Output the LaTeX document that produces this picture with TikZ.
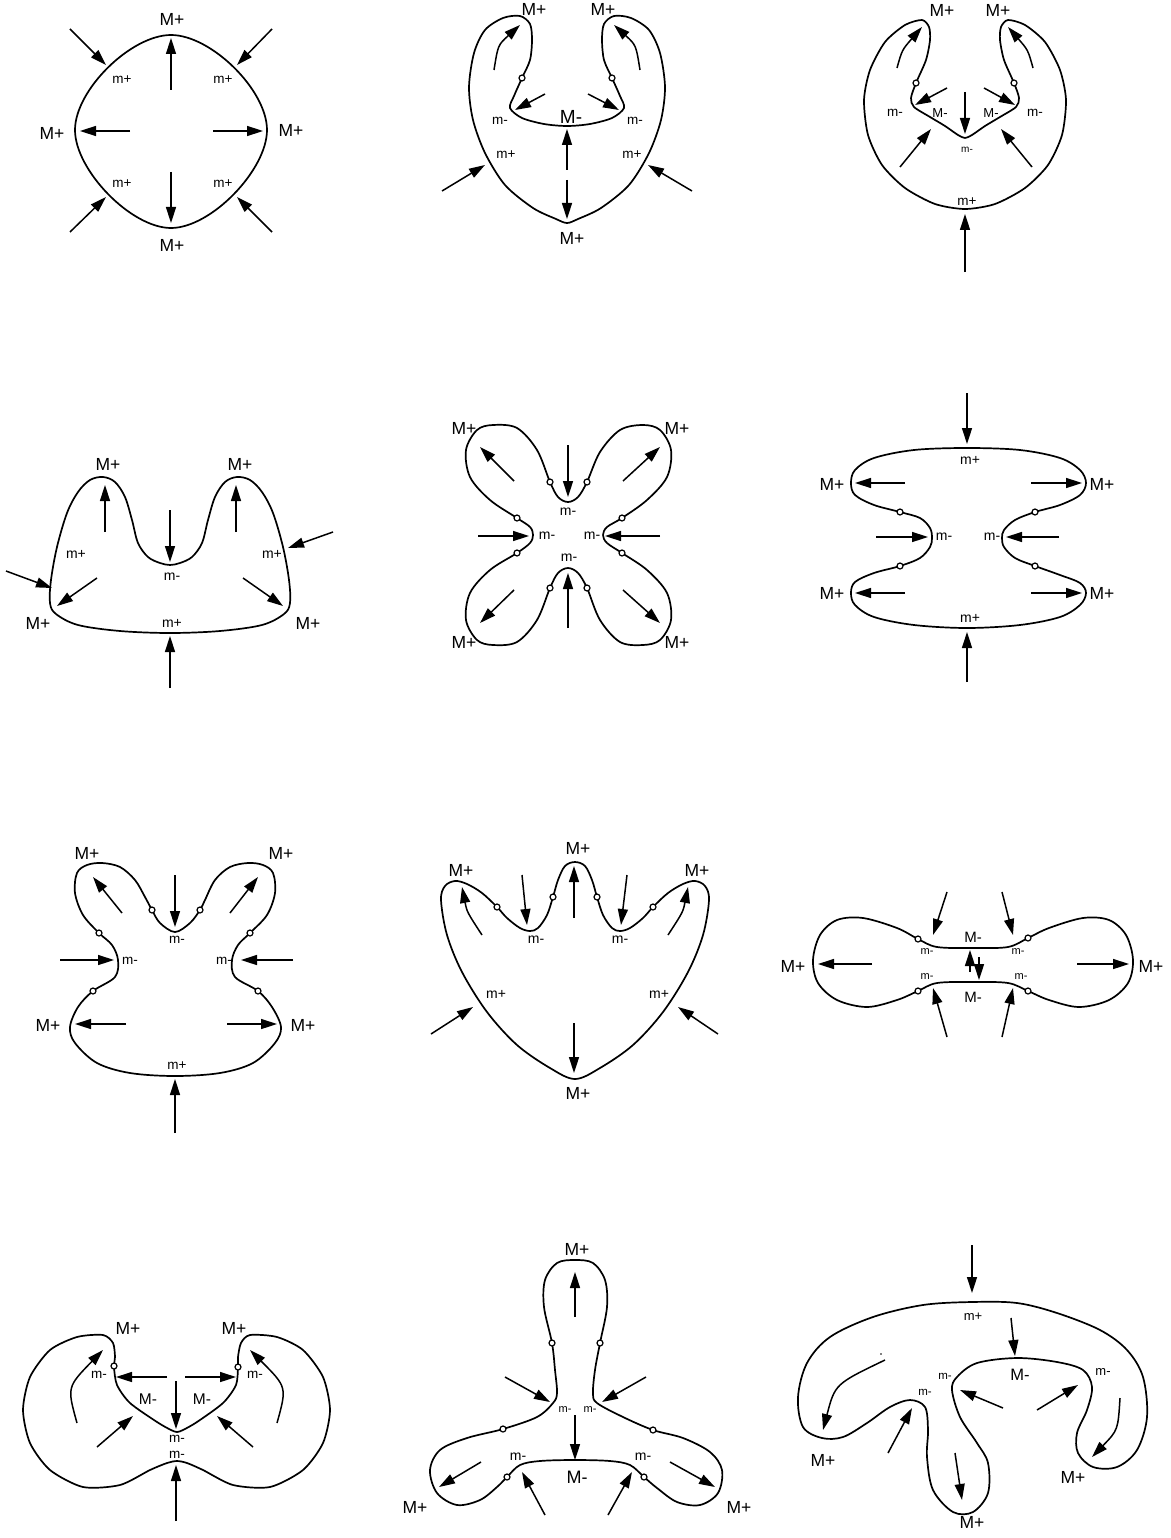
\documentclass[tikz,border=0pt]{standalone}
\usepackage{fontspec}
\setmainfont{Liberation Sans}
\usetikzlibrary{arrows.meta}
\tikzset{
 outline/.style={line width=1.7pt, line join=round},
 arr/.style={line width=1.5pt, -{Triangle[length=16pt,width=10pt]}},
 ring/.style={line width=1.2pt, fill=white},
 lbl/.style={font=\fontsize{#1}{#1}\selectfont, inner sep=0pt},
 dotmark/.style={fill=black}
}
\begin{document}
\begin{tikzpicture}[x=1pt,y=-1pt]
\useasboundingbox (0,0) rectangle (1170,1538);

% ===== Panel 1 =====
\draw[outline] (171,35) .. controls (211,35) and (267,90) .. (267,130) .. controls (267,170) and (211,228) .. (171,228) .. controls (131,228) and (75,170) .. (75,130) .. controls (75,90) and (131,35) .. (171,35) -- cycle;
\draw[arr] (171,90) -- (171,38);
\draw[arr] (130,131) -- (80,131);
\draw[arr] (213,131) -- (263,131);
\draw[arr] (171,172) -- (171,223);
\draw[arr] (70,29) -- (106,65);
\draw[arr] (272,29) -- (237,65);
\draw[arr] (70,232) -- (106,197);
\draw[arr] (272,232) -- (237,197);
\node[lbl=17.5] (a1) at (172,19) {M+};
\node[lbl=17.5] (a2) at (52,133) {M+};
\node[lbl=17.5] (a3) at (291,130) {M+};
\node[lbl=17.5] (a4) at (172,245) {M+};
\node[lbl=13.5] (a5) at (122,80) {m+};
\node[lbl=13.5] (a6) at (223,80) {m+};
\node[lbl=13.5] (a7) at (122,184) {m+};
\node[lbl=13.5] (a8) at (223,184) {m+};

% ===== Panel 2 =====
\draw[outline] plot[smooth cycle, tension=0.5] coordinates {(520,16) (503,18) (485,30) (474,53) (469,87) (473,120) (485,153) (505,185) (533,208) (556,219) (567,223) (578,219) (601,208) (629,185) (649,153) (661,120) (665,87) (660,53) (649,30) (631,18) (614,16) (604,24) (602,40) (604,60) (612,78) (620,96) (624,108) (612,118) (590,124) (567,126) (544,124) (522,118) (510,108) (514,96) (522,78) (530,60) (532,40) (530,24)};
\draw[ring] (522,78) circle (3pt);
\draw[ring] (612,78) circle (3pt);
\draw[arr] (494,70) .. controls (498,45) .. (520,25);
\draw[arr] (640,70) .. controls (636,45) .. (614,25);
\draw[arr] (545,94) -- (515,110);
\draw[arr] (588,94) -- (619,110);
\draw[arr] (567,170) -- (567,129);
\draw[arr] (567,180) -- (567,219);
\draw[arr] (442,191) -- (485,165);
\draw[arr] (692,191) -- (648,165);
\node[lbl=17.5] (b1) at (534,9) {M+};
\node[lbl=17.5] (b2) at (603,9) {M+};
\node[lbl=19] (b3) at (571,117) {M-};
\node[lbl=13.5] (b4) at (500,121) {m-};
\node[lbl=13.5] (b5) at (635,121) {m-};
\node[lbl=13.5] (b6) at (506,155) {m+};
\node[lbl=13.5] (b7) at (632,155) {m+};
\node[lbl=17.5] (b8) at (572,238) {M+};

% ===== Panel 3 =====
\draw[outline] plot[smooth cycle, tension=0.45] coordinates {(922,20) (905,25) (885,42) (870,70) (864,100) (868,135) (882,165) (905,188) (935,204) (965,209) (995,204) (1025,188) (1048,165) (1062,135) (1066,100) (1060,70) (1045,42) (1025,25) (1008,20) (1001,27) (1000,40) (1004,60) (1014,83) (1019,98) (1016,107) (1000,117) (985,126) (972,135) (965,138) (958,135) (945,126) (930,117) (914,107) (911,98) (916,83) (926,60) (930,40) (929,27)};
\draw[ring] (916,83) circle (3pt);
\draw[ring] (1014,83) circle (3pt);
\draw[arr] (897,68) .. controls (902,50) .. (922,27);
\draw[arr] (1033,68) .. controls (1028,50) .. (1008,27);
\draw[arr] (947,88) -- (915,105);
\draw[arr] (984,88) -- (1015,105);
\draw[arr] (965,92) -- (965,134);
\draw[arr] (900,167) -- (931,129);
\draw[arr] (1032,167) -- (1001,129);
\draw[arr] (965,272) -- (965,214);
\node[lbl=17.5] (c1) at (942,10) {M+};
\node[lbl=17.5] (c2) at (998,10) {M+};
\node[lbl=13.5] (c3) at (895,113) {m-};
\node[lbl=13.5] (c4) at (1035,113) {m-};
\node[lbl=13] (c5) at (940,113) {M-};
\node[lbl=13] (c6) at (991,113) {M-};
\node[lbl=10] (c7) at (967,150) {m-};
\node[lbl=13.5] (c8) at (967,202) {m+};

% ===== Panel 4 =====
\draw[outline] plot[smooth cycle, tension=0.55] coordinates {(103,477) (115,482) (125,497) (132,520) (138,543) (148,557) (160,563) (170,565) (180,563) (192,557) (202,543) (208,520) (215,497) (225,482) (237,477) (250,480) (262,492) (273,513) (283,547) (289,580) (290,603) (284,614) (262,625) (220,631) (170,633) (120,631) (78,625) (56,614) (50,603) (51,580) (57,547) (67,513) (78,492) (90,480)};
\draw[arr] (105,532) -- (105,485);
\draw[arr] (236,532) -- (236,485);
\draw[arr] (170,510) -- (170,562);
\draw[arr] (6,571) -- (52,588);
\draw[arr] (333,532) -- (288,548);
\draw[arr] (97,578) -- (57,606);
\draw[arr] (243,578) -- (283,606);
\draw[arr] (170,688) -- (170,636);
\node[lbl=17.5] (d1) at (108,464) {M+};
\node[lbl=17.5] (d2) at (240,464) {M+};
\node[lbl=14] (d3) at (76,554) {m+};
\node[lbl=14] (d4) at (272,554) {m+};
\node[lbl=14] (d5) at (172,577) {m-};
\node[lbl=14] (d6) at (172,623) {m+};
\node[lbl=17.5] (d7) at (38,623) {M+};
\node[lbl=17.5] (d8) at (308,623) {M+};

% ===== Panel 5 =====
\draw[outline] plot[smooth cycle, tension=0.55] coordinates {(568,502) (578,497) (587,482) (600,452) (620,430) (643,425) (660,430) (671,450) (667,477) (647,500) (622,518) (607,527) (603,535) (607,543) (622,553) (647,570) (667,593) (671,620) (660,640) (643,645) (620,642) (600,620) (587,588) (578,573) (568,568) (558,573) (550,588) (537,620) (517,642) (493,645) (477,640) (466,620) (470,593) (490,570) (517,553) (530,543) (533,535) (530,527) (517,518) (490,500) (470,477) (466,450) (477,430) (493,425) (517,428) (537,450) (550,482) (558,497)};
\foreach \p in {(550,482),(587,482),(517,518),(622,518),(517,553),(622,553),(550,588),(587,588)} \draw[ring] \p circle (3pt);
\draw[arr] (568,445) -- (568,497);
\draw[arr] (568,628) -- (568,573);
\draw[arr] (478,536) -- (529,536);
\draw[arr] (660,536) -- (605,536);
\draw[arr] (514,481) -- (480,447);
\draw[arr] (623,481) -- (660,447);
\draw[arr] (514,590) -- (480,623);
\draw[arr] (623,590) -- (660,623);
\node[lbl=17.5] (e1) at (464,428) {M+};
\node[lbl=17.5] (e2) at (677,428) {M+};
\node[lbl=17.5] (e3) at (464,642) {M+};
\node[lbl=17.5] (e4) at (677,642) {M+};
\node[lbl=14] (e5) at (568,512) {m-};
\node[lbl=14] (e6) at (547,536) {m-};
\node[lbl=14] (e7) at (592,536) {m-};
\node[lbl=14] (e8) at (569,558) {m-};

% ===== Panel 6 =====
\draw[outline] plot[smooth cycle, tension=0.55] coordinates {(967,448) (1020,450) (1060,458) (1080,470) (1086,483) (1080,495) (1060,505) (1035,512) (1015,520) (1004,530) (1002,538) (1004,547) (1015,558) (1035,566) (1060,575) (1080,583) (1086,593) (1080,605) (1060,617) (1020,625) (967,628) (914,625) (874,617) (855,605) (851,593) (855,582) (874,573) (900,566) (920,558) (930,547) (932,538) (930,528) (920,518) (900,512) (874,505) (855,495) (851,483) (855,470) (874,458) (914,450)};
\foreach \p in {(900,512),(900,566),(1035,512),(1035,566)} \draw[ring] \p circle (3pt);
\draw[arr] (967,393) -- (967,444);
\draw[arr] (967,682) -- (967,632);
\draw[arr] (905,483) -- (855,483);
\draw[arr] (1031,483) -- (1082,483);
\draw[arr] (905,593) -- (855,593);
\draw[arr] (1031,593) -- (1082,593);
\draw[arr] (876,537) -- (928,537);
\draw[arr] (1059,537) -- (1006,537);
\node[lbl=14] (f1) at (970,460) {m+};
\node[lbl=14] (f2) at (970,618) {m+};
\node[lbl=17.5] (f3) at (832,484) {M+};
\node[lbl=17.5] (f4) at (1102,484) {M+};
\node[lbl=17.5] (f5) at (832,593) {M+};
\node[lbl=17.5] (f6) at (1102,593) {M+};
\node[lbl=14] (f7) at (944,537) {m-};
\node[lbl=14] (f8) at (992,537) {m-};

% ===== Panel 7 =====
\draw[outline] plot[smooth cycle, tension=0.55] coordinates {(175,932) (190,923) (200,910) (205,900) (215,880) (230,867) (248,863) (263,865) (273,873) (275,893) (267,915) (250,933) (238,945) (232,960) (235,977) (258,991) (272,1007) (281,1027) (275,1043) (253,1063) (220,1073) (175,1076) (130,1073) (97,1063) (75,1043) (70,1027) (78,1007) (93,991) (115,977) (118,960) (112,945) (99,933) (83,915) (75,893) (77,873) (87,865) (102,863) (120,867) (135,880) (145,897) (152,910) (160,923)};
\foreach \p in {(152,910),(200,910),(99,933),(250,933),(93,991),(258,991)} \draw[ring] \p circle (3pt);
\draw[arr] (175,875) -- (175,927);
\draw[arr] (122,913) -- (93,877);
\draw[arr] (230,913) -- (258,877);
\draw[arr] (60,960) -- (114,960);
\draw[arr] (293,960) -- (241,960);
\draw[arr] (126,1024) -- (75,1024);
\draw[arr] (227,1024) -- (277,1024);
\draw[arr] (175,1133) -- (175,1079);
\node[lbl=17.5] (g1) at (87,853) {M+};
\node[lbl=17.5] (g2) at (281,853) {M+};
\node[lbl=13.5] (g3) at (177,940) {m-};
\node[lbl=13.5] (g4) at (130,961) {m-};
\node[lbl=13.5] (g5) at (224,961) {m-};
\node[lbl=17.5] (g6) at (48,1025) {M+};
\node[lbl=17.5] (g7) at (303,1025) {M+};
\node[lbl=13.5] (g8) at (177,1066) {m+};

% ===== Panel 8 =====
\draw[outline] plot[smooth cycle, tension=0.55] coordinates {(575,862) (585,866) (592,880) (597,897) (603,915) (612,928) (620,931) (630,928) (643,918) (653,907) (668,893) (683,884) (695,881) (705,886) (709,900) (703,935) (688,972) (663,1012) (633,1045) (600,1068) (575,1079) (550,1068) (517,1045) (487,1012) (462,972) (447,935) (441,900) (445,886) (455,881) (467,884) (482,893) (497,907) (507,918) (520,928) (530,931) (538,928) (547,915) (553,897) (558,880) (565,866)};
\foreach \p in {(497,907),(553,897),(597,897),(653,907)} \draw[ring] \p circle (3pt);
\draw[arr] (574,918) -- (574,866);
\draw[arr] (522,875) -- (527,925);
\draw[arr] (627,875) -- (621,925);
\draw[arr] (482,935) .. controls (467,912) .. (462,887);
\draw[arr] (668,935) .. controls (683,912) .. (688,887);
\draw[arr] (574,1023) -- (574,1073);
\draw[arr] (431,1034) -- (473,1007);
\draw[arr] (718,1034) -- (678,1007);
\node[lbl=17.5] (h1) at (578,848) {M+};
\node[lbl=17.5] (h2) at (461,870) {M+};
\node[lbl=17.5] (h3) at (697,870) {M+};
\node[lbl=17.5] (h4) at (578,1093) {M+};
\node[lbl=14] (h5) at (536,940) {m-};
\node[lbl=14] (h6) at (620,940) {m-};
\node[lbl=14] (h7) at (496,994) {m+};
\node[lbl=14] (h8) at (659,994) {m+};

% ===== Panel 9 =====
\draw[outline] plot[smooth cycle, tension=0.55] coordinates {(918,939) (937,947) (973,948) (1008,947) (1028,938) (1049,928) (1083,918) (1109,920) (1126,935) (1133,960) (1128,983) (1109,1000) (1079,1007) (1049,1000) (1028,991) (1008,983) (973,982) (937,983) (918,991) (897,1000) (867,1007) (837,1000) (818,983) (813,960) (820,935) (837,920) (863,918) (897,928)};
\foreach \p in {(918,939),(1028,938),(918,991),(1028,991)} \draw[ring] \p circle (3pt);
\draw[arr] (947,892) -- (933,935);
\draw[arr] (1002,892) -- (1013,935);
\draw[arr] (947,1037) -- (933,988);
\draw[arr] (1002,1037) -- (1013,988);
\draw[arr] (970,972) -- (970,950);
\draw[arr] (979,957) -- (979,980);
\draw[arr] (872,964) -- (818,964);
\draw[arr] (1077,964) -- (1129,964);
\node[lbl=15] (i1) at (973,937) {M-};
\node[lbl=15] (i2) at (973,997) {M-};
\node[lbl=11] (i3) at (927,952) {m-};
\node[lbl=11] (i4) at (1018,952) {m-};
\node[lbl=11] (i5) at (927,977) {m-};
\node[lbl=11] (i6) at (1021,977) {m-};
\node[lbl=17.5] (i7) at (793,966) {M+};
\node[lbl=17.5] (i8) at (1151,966) {M+};

% ===== Panel 10 =====
\draw[outline] plot[smooth cycle, tension=0.45] coordinates {(103,1335) (77,1337) (50,1350) (30,1377) (23,1410) (30,1443) (50,1470) (83,1487) (120,1485) (150,1470) (167,1463) (177,1461) (187,1463) (203,1470) (233,1485) (270,1487) (303,1470) (323,1443) (330,1410) (323,1377) (303,1350) (277,1337) (250,1335) (241,1343) (238,1357) (238,1367) (236,1385) (223,1403) (197,1422) (183,1430) (177,1432) (171,1430) (157,1422) (130,1403) (117,1385) (114,1367) (115,1357) (113,1343)};
\draw[ring] (114,1366) circle (3pt);
\draw[ring] (238,1367) circle (3pt);
\draw[arr] (77,1423) .. controls (67,1387) .. (103,1350);
\draw[arr] (277,1423) .. controls (287,1387) .. (250,1350);
\draw[arr] (167,1377) -- (116,1377);
\draw[arr] (185,1377) -- (236,1377);
\draw[arr] (176,1381) -- (176,1429);
\draw[arr] (97,1447) -- (133,1416);
\draw[arr] (253,1447) -- (217,1416);
\draw[arr] (176,1521) -- (176,1465);
\node[lbl=17.5] (j1) at (128,1328) {M+};
\node[lbl=17.5] (j2) at (234,1328) {M+};
\node[lbl=13.5] (j3) at (99,1375) {m-};
\node[lbl=13.5] (j4) at (255,1375) {m-};
\node[lbl=15.5] (j5) at (148,1399) {M-};
\node[lbl=15.5] (j6) at (202,1399) {M-};
\node[lbl=13.5] (j7) at (177,1439) {m-};
\node[lbl=13.5] (j8) at (177,1455) {m-};

% ===== Panel 11 =====
\draw[outline] plot[smooth cycle, tension=0.55] coordinates {(575,1260) (557,1263) (545,1280) (544,1307) (552,1343) (555,1370) (557,1393) (553,1403) (537,1417) (503,1429) (467,1438) (440,1450) (430,1470) (437,1493) (457,1505) (480,1500) (497,1487) (507,1477) (520,1465) (540,1461) (575,1460) (610,1461) (630,1465) (644,1477) (657,1488) (677,1502) (700,1505) (718,1493) (722,1470) (710,1452) (683,1438) (653,1430) (623,1417) (597,1403) (593,1393) (595,1370) (600,1343) (607,1307) (605,1280) (593,1263)};
\foreach \p in {(552,1343),(600,1343),(503,1429),(653,1430),(507,1477),(644,1477)} \draw[ring] \p circle (3pt);
\draw[arr] (575,1317) -- (575,1272);
\draw[arr] (575,1415) -- (575,1460);
\draw[arr] (505,1377) -- (550,1402);
\draw[arr] (646,1377) -- (602,1402);
\draw[arr] (481,1462) -- (439,1487);
\draw[arr] (670,1462) -- (715,1487);
\draw[arr] (545,1515) -- (522,1472);
\draw[arr] (608,1515) -- (632,1472);
\node[lbl=17.5] (k1) at (577,1249) {M+};
\node[lbl=11] (k2) at (565,1410) {m-};
\node[lbl=11] (k3) at (590,1410) {m-};
\node[lbl=14] (k4) at (518,1457) {m-};
\node[lbl=14] (k5) at (643,1457) {m-};
\node[lbl=18] (k6) at (577,1477) {M-};
\node[lbl=17.5] (k7) at (415,1507) {M+};
\node[lbl=17.5] (k8) at (739,1507) {M+};

% ===== Panel 12 =====
\draw[outline] plot[smooth cycle, tension=0.55] coordinates {(972,1302) (923,1305) (873,1317) (830,1337) (807,1363) (798,1397) (803,1427) (822,1438) (843,1437) (867,1423) (890,1407) (910,1400) (925,1407) (928,1430) (927,1457) (933,1490) (953,1512) (973,1512) (988,1493) (988,1463) (977,1443) (960,1417) (952,1390) (957,1377) (977,1363) (1017,1358) (1057,1362) (1083,1370) (1092,1387) (1087,1410) (1077,1433) (1078,1453) (1093,1467) (1117,1467) (1137,1450) (1147,1417) (1143,1377) (1127,1350) (1100,1330) (1057,1313) (1017,1303)};
\draw[arr] (972,1245) -- (972,1293);
\draw[arr] (1011,1318) -- (1015,1356);
\draw[arr] (885,1360) .. controls (835,1384) .. (823,1430);
\draw[arr] (1120,1398) .. controls (1118,1430) .. (1092,1457);
\draw[arr] (955,1453) -- (962,1500);
\draw[arr] (888,1453) -- (912,1408);
\draw[arr] (1003,1408) -- (960,1390);
\draw[arr] (1037,1410) -- (1078,1385);
\fill[dotmark] (881,1354) circle (0.9pt);
\node[lbl=13] (m1) at (973,1317) {m+};
\node[lbl=16.5] (m2) at (1020,1375) {M-};
\node[lbl=11.5] (m3) at (945,1376) {m-};
\node[lbl=11.5] (m4) at (925,1392) {m-};
\node[lbl=13] (m5) at (1103,1372) {m-};
\node[lbl=17.5] (m6) at (823,1460) {M+};
\node[lbl=17.5] (m7) at (1073,1477) {M+};
\node[lbl=17.5] (m8) at (972,1522) {M+};
\end{tikzpicture}
\end{document}
